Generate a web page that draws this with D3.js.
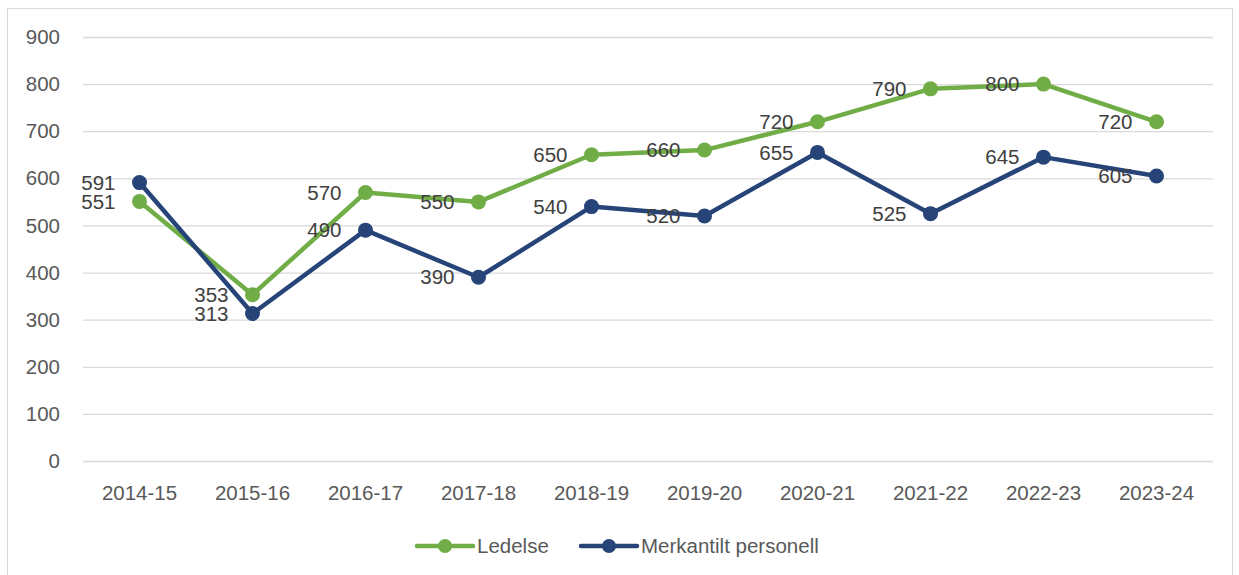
<!DOCTYPE html>
<html><head><meta charset="utf-8">
<script src="https://cdn.jsdelivr.net/npm/d3@7"></script>
<style>body{margin:0;background:#fff}svg{display:block}text{font-family:"Liberation Sans",Arial,sans-serif}</style>
</head><body><svg id="c" width="1239" height="575"></svg>
<script>
const categories=["2014-15","2015-16","2016-17","2017-18","2018-19","2019-20","2020-21","2021-22","2022-23","2023-24"];
const ledelse=[551,353,570,550,650,660,720,790,800,720];
const merkantilt=[591,313,490,390,540,520,655,525,645,605];
const yTicks=[0,100,200,300,400,500,600,700,800,900];
const seriesNames=["Ledelse","Merkantilt personell"];
const colors=["#70ad47","#264478"];

const svg=d3.select("#c");
svg.append("rect").attr("x",7.5).attr("y",8.5).attr("width",1225).attr("height",575).attr("fill","#fff").attr("stroke","#d9d9d9");
const x=d3.scaleBand().domain(categories).range([83,1213]);
const y=d3.scaleLinear().domain([0,900]).range([461,37]);
const cx=d=>x(d)+x.bandwidth()/2;
const fs=20.5;

const gy=svg.append("g").attr("transform","translate(83,0)")
 .call(d3.axisLeft(y).tickValues(yTicks).tickSize(-1130).tickPadding(23));
gy.select(".domain").remove();
gy.selectAll("line").attr("stroke","#d9d9d9").attr("stroke-width",1.3);
gy.selectAll("text").attr("fill","#595959").attr("font-size",fs);

const gx=svg.append("g").attr("transform","translate(0,461)")
 .call(d3.axisBottom(x).tickSize(0).tickPadding(24));
gx.select(".domain").remove();
gx.selectAll("text").attr("fill","#595959").attr("font-size",fs);

const data=[ledelse,merkantilt];
const line=d3.line().x((d,i)=>cx(categories[i])).y(d=>y(d));
data.forEach((s,k)=>{
  svg.append("path").datum(s).attr("d",line).attr("fill","none").attr("stroke",colors[k]).attr("stroke-width",4.5).attr("stroke-linejoin","round").attr("stroke-linecap","round");
});
data.forEach((s,k)=>{
  svg.append("g").selectAll("circle").data(s).join("circle")
   .attr("cx",(d,i)=>cx(categories[i])).attr("cy",d=>y(d)).attr("r",7.5).attr("fill",colors[k]);
});
data.forEach((s,k)=>{
  svg.append("g").selectAll("text").data(s).join("text")
   .attr("x",(d,i)=>cx(categories[i])-24).attr("y",d=>y(d)).attr("dy","0.35em")
   .attr("text-anchor","end").attr("font-size",fs).attr("fill","#404040").text(d=>d);
});

// legend
const leg=[{x:417},{x:581}];
seriesNames.forEach((n,k)=>{
  const g=svg.append("g").attr("transform",`translate(${leg[k].x},546)`);
  g.append("line").attr("x1",0).attr("x2",56).attr("stroke",colors[k]).attr("stroke-width",4.5).attr("stroke-linecap","round");
  g.append("circle").attr("cx",28).attr("r",7).attr("fill",colors[k]);
  g.append("text").attr("x",60).attr("dy","0.35em").attr("font-size",fs).attr("fill","#595959").text(n);
});
</script></body></html>
